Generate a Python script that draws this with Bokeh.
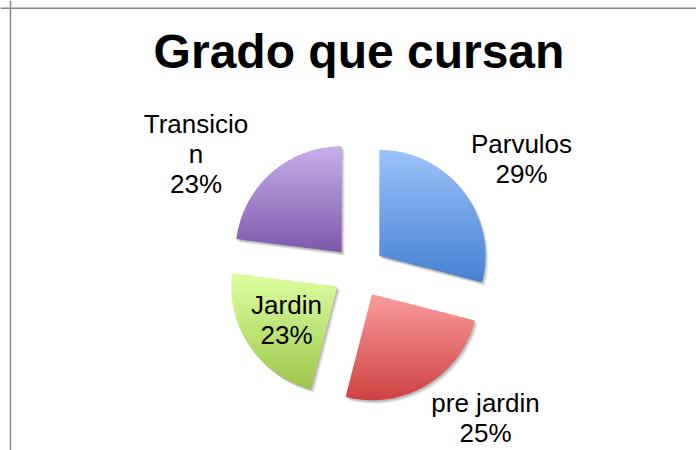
import numpy as np
from bokeh.plotting import figure
from bokeh.models import Range1d, Span
from bokeh.core.properties import value
from bokeh.embed import file_html
from bokeh.resources import INLINE

# ---------------- data ----------------
title_text = "Grado que cursan"
categories = ["Parvulos", "pre jardin", "Jardin", "Transicion"]
label_names = ["Parvulos", "pre jardin", "Jardin", "Transicio\nn"]
values = [29, 25, 23, 23]

# ---------------- styles / layout ----------------
colors_top = ["#9CC3FB", "#FA9D9D", "#DDFFA2", "#C7B0E9"]
colors_bottom = ["#4780D2", "#CF4141", "#9DC74B", "#7C58AC"]
W, H = 696, 450
CX, CY = 358.3, 178.7       # pie centre (data units = px)
R = 106                     # radius
EXPLODE = 26                # explosion distance
LABEL_SHIFT = 9.5           # renderer baseline compensation
label_anchor = [(521, 297 + LABEL_SHIFT), (485, 38.5 + LABEL_SHIFT),
                (286, 136 + LABEL_SHIFT), (195.5, 317 + LABEL_SHIFT)]  # first-line baselines
LINE_STEP = 30
TITLE_POS = (358.5, 382 + 17)
FONT = "Liberation Sans"


def hex2rgb(h):
    h = h.lstrip("#")
    return np.array([int(h[i:i + 2], 16) for i in (0, 2, 4)], dtype=float)


def mix(c0, c1, t):
    c = hex2rgb(c0) * (1 - t) + hex2rgb(c1) * t
    return "#%02x%02x%02x" % tuple(int(round(v)) for v in c)


def clip(poly, y, keep_above):
    out = []
    n = len(poly)
    for i in range(n):
        P, Q = poly[i], poly[(i + 1) % n]
        inP = P[1] >= y if keep_above else P[1] <= y
        inQ = Q[1] >= y if keep_above else Q[1] <= y
        if inP:
            out.append(P)
        if inP != inQ:
            t = (y - P[1]) / (Q[1] - P[1])
            out.append((P[0] + t * (Q[0] - P[0]), y))
    return out


total = float(sum(values))
fracs = [v / total for v in values]
starts = np.concatenate([[0.0], np.cumsum(fracs)[:-1]]) * 360.0
ends = np.cumsum(fracs) * 360.0

slice_polys = []
for a0, a1 in zip(starts, ends):
    mid = np.radians((a0 + a1) / 2)
    ox = CX + EXPLODE * np.sin(mid)
    oy = CY + EXPLODE * np.cos(mid)
    th = np.radians(np.linspace(a0, a1, 90))
    pts = [(ox, oy)] + [(ox + R * np.sin(t), oy + R * np.cos(t)) for t in th]
    slice_polys.append(pts)

p = figure(width=W, height=H, output_backend="svg", toolbar_location=None,
           x_range=Range1d(0, W), y_range=Range1d(0, H),
           x_axis_type=None, y_axis_type=None, min_border=0)
p.outline_line_color = None
p.background_fill_color = "white"
p.border_fill_color = "white"

# soft shadows
for (dx, dy, a) in [(3, -3.5, 0.08), (2, -2.5, 0.10), (1, -1.5, 0.12)]:
    p.patches(xs=[[q[0] + dx for q in poly] for poly in slice_polys],
              ys=[[q[1] + dy for q in poly] for poly in slice_polys],
              fill_color="#000000", fill_alpha=a, line_color=None)

# gradient-filled slices
NB = 45
xs, ys, cols = [], [], []
for poly, ct, cb in zip(slice_polys, colors_top, colors_bottom):
    yv = [q[1] for q in poly]
    ymin, ymax = min(yv), max(yv)
    step = (ymax - ymin) / NB
    for k in range(NB):
        hi = ymax - k * step
        lo = hi - step
        band = clip(clip(poly, lo - 0.4, True), hi + 0.4, False)
        if len(band) < 3:
            continue
        t = (k + 0.5) / NB
        xs.append([q[0] for q in band])
        ys.append([q[1] for q in band])
        cols.append(mix(ct, cb, t))
p.patches(xs=xs, ys=ys, fill_color=cols, line_color=None)

# labels
lx, ly, lt = [], [], []
for name, v, (ax, ay) in zip(label_names, values, label_anchor):
    lines = name.split("\n") + [f"{round(v / total * 100)}%"]
    for i, ln in enumerate(lines):
        lx.append(ax)
        ly.append(ay - i * LINE_STEP)
        lt.append(ln)
p.text(x=lx, y=ly, text=lt, text_font=value(FONT), text_font_size="26px",
       text_align="center", text_baseline="alphabetic", text_color="#000000")

# title
p.text(x=[TITLE_POS[0]], y=[TITLE_POS[1]], text=[title_text], text_font=value(FONT),
       text_font_size="48px", text_font_style="bold", text_align="center",
       text_baseline="alphabetic", text_color="#000000")

# chart-area border (top and left edges visible)
p.add_layout(Span(location=442.3, dimension="width", line_color="#8a8a8a", line_width=1.5))
p.add_layout(Span(location=10, dimension="height", line_color="#8a8a8a", line_width=1.5))

open("out.html", "w").write(file_html(p, INLINE))
